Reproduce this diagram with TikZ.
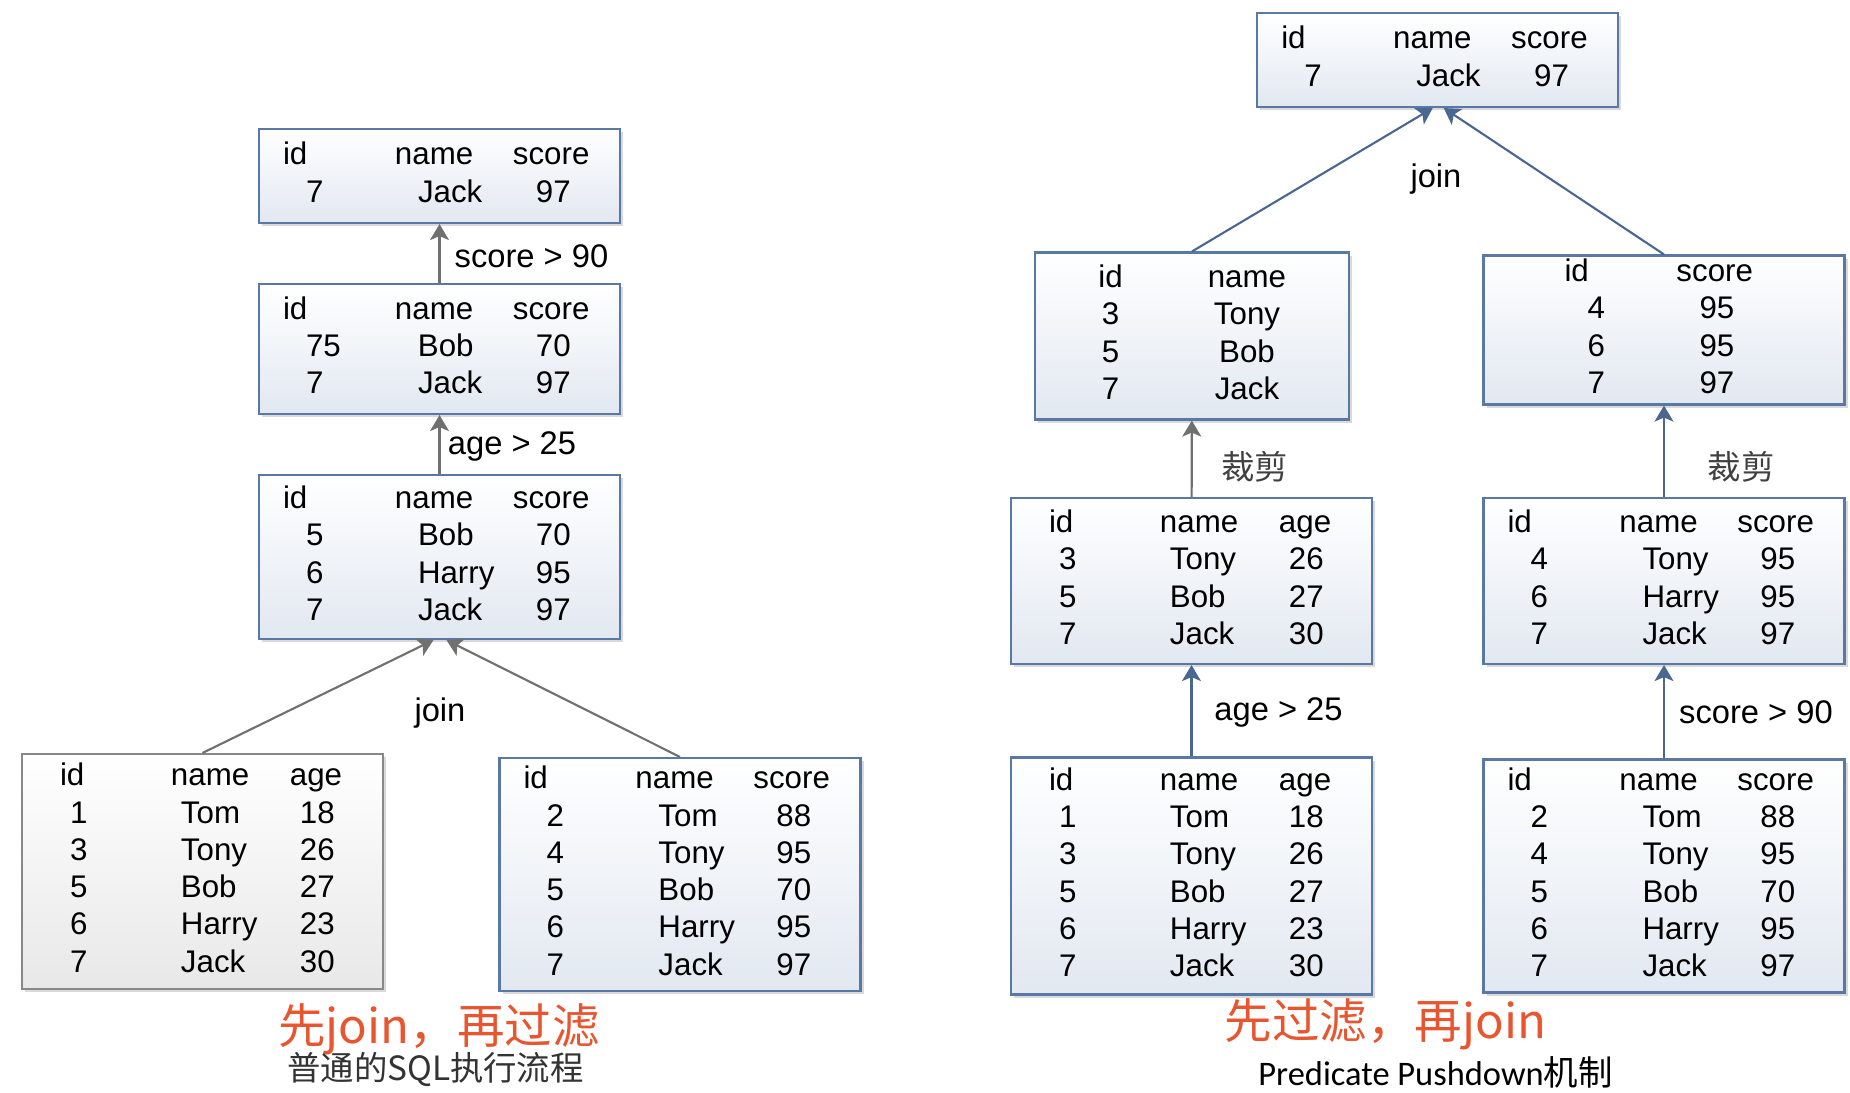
\documentclass[tikz,border=0pt]{standalone}
\usepackage{fontspec}
\setmainfont{Liberation Sans}
\newfontfamily\cjk{Noto Sans CJK SC}
\newfontfamily\cali{Carlito}
\usepackage{array}
\usepackage{tikz}
\usetikzlibrary{arrows.meta,shadows}

\definecolor{boxline}{HTML}{5A78A6}
\definecolor{boxfill}{HTML}{E2E8F1}
\definecolor{grayline}{HTML}{888888}
\definecolor{grayfill}{HTML}{E8E8E8}
\definecolor{arrgray}{HTML}{707070}
\definecolor{arrblue}{HTML}{4A6792}
\definecolor{titred}{HTML}{E8552F}

\newcommand{\scind}{\hspace*{2.3mm}}
\newcommand{\agind}{\hspace*{1mm}}
\newcommand{\sctab}[1]{\begin{tabular}{@{\hspace{2.4mm}}p{11.2mm}@{}p{11.8mm}@{}p{10.7mm}@{}}#1\end{tabular}}
\newcommand{\agetab}[1]{\begin{tabular}{@{\hspace{3.8mm}}p{11.1mm}@{}p{11.9mm}@{}p{9.3mm}@{}}#1\end{tabular}}
\newcommand{\nametab}[1]{\begin{tabular}{@{\hspace{4.1mm}}>{\centering\arraybackslash}p{6.9mm}@{}>{\centering\arraybackslash}p{20.4mm}@{}}#1\end{tabular}}
\newcommand{\idtab}[1]{\begin{tabular}{@{\hspace{8.1mm}}p{11.2mm}@{}p{16.8mm}@{}}#1\end{tabular}}

\begin{document}
\begin{tikzpicture}[x=0.1mm, y=-0.1mm,
  font=\fontsize{8.9pt}{10.6pt}\selectfont,
  tbl/.style={draw=boxline, line width=0.6pt, top color=white, bottom color=boxfill,
    inner sep=0pt, minimum width=36.1mm,
    drop shadow={shadow xshift=0.3mm, shadow yshift=-0.3mm, fill=black!15, opacity=1}},
  gtbl/.style={tbl, draw=grayline, bottom color=grayfill},
  garrow/.style={draw=arrgray, line width=0.6pt, -{Stealth[length=1.6mm, width=1.9mm, inset=0.4mm]}},
  barrow/.style={garrow, draw=arrblue, -{Stealth[length=1.6mm, width=1.9mm, inset=0.4mm, fill=arrblue]}},
  lbl/.style={font=\fontsize{9.3pt}{11pt}\selectfont},
  cutlbl/.style={font=\cjk\fontsize{9.5pt}{11pt}\selectfont, text=black!75},
  ttl/.style={font=\cjk\fontsize{13.5pt}{16pt}\selectfont, text=titred},
  sub/.style={font=\cjk\fontsize{9.5pt}{11pt}\selectfont, text=black!80}]
\path[use as bounding box, fill=white] (0,0) rectangle (1850,1092);

\node[tbl, minimum height=9.4mm] (l1) at (439.5,176) {\sctab{id & name & score\\ \scind 7 & \scind Jack & \scind 97}};
\node[tbl, minimum height=13mm] (l2) at (439.5,349) {\sctab{id & name & score\\ \scind 75 & \scind Bob & \scind 70\\ \scind 7 & \scind Jack & \scind 97}};
\node[tbl, minimum height=16.4mm] (l3) at (439.5,557) {\sctab{id & name & score\\ \scind 5 & \scind Bob & \scind 70\\ \scind 6 & \scind Harry & \scind 95\\ \scind 7 & \scind Jack & \scind 97}};
\node[gtbl, minimum height=23.5mm] (l4) at (202.5,871.5) {\agetab{id & name & age\\ \agind 1 & \agind Tom & \agind 18\\ \agind 3 & \agind Tony & \agind 26\\ \agind 5 & \agind Bob & \agind 27\\ \agind 6 & \agind Harry & \agind 23\\ \agind 7 & \agind Jack & \agind 30}};
\node[tbl, minimum height=23.3mm] (l5) at (680,874.5) {\sctab{id & name & score\\ \scind 2 & \scind Tom & \scind 88\\ \scind 4 & \scind Tony & \scind 95\\ \scind 5 & \scind Bob & \scind 70\\ \scind 6 & \scind Harry & \scind 95\\ \scind 7 & \scind Jack & \scind 97}};

\draw[garrow] (l2) -- (l1);
\draw[garrow] (l3) -- (l2);
\draw[garrow] (l4.north) -- ([xshift=-0.6mm]l3.south);
\draw[garrow] (l5.north) -- ([xshift=0.7mm]l3.south);
\node[lbl] (sc1) at (531.5,256.5) {score > 90};
\node[lbl] (ag1) at (512,446) {age > 25};
\node[lbl] (jn1) at (440,713) {join};
\node[ttl] (t1) at (439,1029) {先join，再过滤};
\node[sub] (s1) at (435.5,1069) {普通的SQL执行流程};

\node[tbl, minimum height=9.4mm] (r1) at (1437.75,60) {\sctab{id & name & score\\ \scind 7 & \scind Jack & \scind 97}};
\node[tbl, minimum width=31.4mm, minimum height=16.7mm] (r2) at (1192,336) {\nametab{id & name\\ 3 & Tony\\ 5 & Bob\\ 7 & Jack}};
\node[tbl, minimum height=14.7mm] (r3) at (1664,330) {\idtab{id & score\\ \scind 4 & \scind 95\\ \scind 6 & \scind 95\\ \scind 7 & \scind 97}};
\node[tbl, minimum height=16.6mm] (r4) at (1191.5,581) {\agetab{id & name & age\\ \agind 3 & \agind Tony & \agind 26\\ \agind 5 & \agind Bob & \agind 27\\ \agind 7 & \agind Jack & \agind 30}};
\node[tbl, minimum height=16.6mm] (r5) at (1664,581) {\sctab{id & name & score\\ \scind 4 & \scind Tony & \scind 95\\ \scind 6 & \scind Harry & \scind 95\\ \scind 7 & \scind Jack & \scind 97}};
\node[tbl, minimum height=23.7mm] (r6) at (1191.5,876) {\agetab{id & name & age\\ \agind 1 & \agind Tom & \agind 18\\ \agind 3 & \agind Tony & \agind 26\\ \agind 5 & \agind Bob & \agind 27\\ \agind 6 & \agind Harry & \agind 23\\ \agind 7 & \agind Jack & \agind 30}};
\node[tbl, minimum height=23.3mm] (r7) at (1664,876) {\sctab{id & name & score\\ \scind 2 & \scind Tom & \scind 88\\ \scind 4 & \scind Tony & \scind 95\\ \scind 5 & \scind Bob & \scind 70\\ \scind 6 & \scind Harry & \scind 95\\ \scind 7 & \scind Jack & \scind 97}};

\draw[barrow] (r2.north) -- ([xshift=-0.5mm]r1.south);
\draw[barrow] (r3.north) -- ([xshift=0.6mm]r1.south);
\draw[garrow] (r4) -- (r2);
\foreach \a/\b in {r5/r3, r6/r4, r7/r5}
  \draw[barrow] (\a) -- (\b);
\node[lbl] (jn2) at (1436,179) {join};
\node[cutlbl] (cj1) at (1254.5,467) {裁剪};
\node[cutlbl] (cj2) at (1741,467) {裁剪};
\node[lbl] (ag2) at (1278.5,712) {age > 25};
\node[lbl] (sc2) at (1756,712) {score > 90};
\node[ttl] (t2) at (1385.5,1024) {先过滤，再join};
\node[font=\fontsize{9.8pt}{12pt}\selectfont] (s2) at (1435.5,1072) {{\cali Predicate Pushdown}{\cjk 机制}};
\end{tikzpicture}
\end{document}
